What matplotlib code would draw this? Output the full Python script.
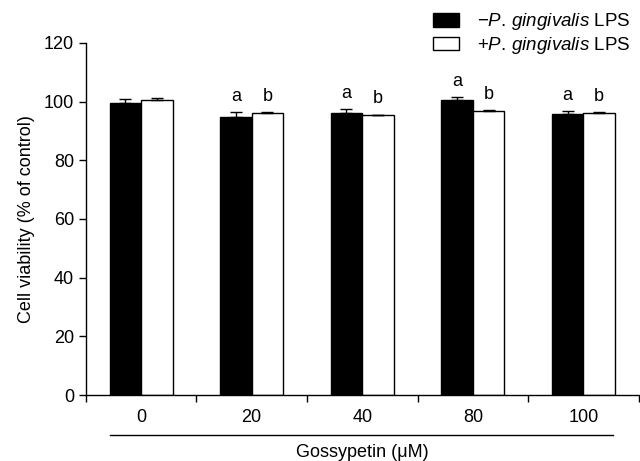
import numpy as np
import matplotlib
matplotlib.use('Agg')
import matplotlib.pyplot as plt
from matplotlib.patches import Patch

plt.rcParams['font.family'] = ['Liberation Sans', 'DejaVu Sans']
plt.rcParams['mathtext.fontset'] = 'custom'
plt.rcParams['mathtext.rm'] = 'Liberation Sans'
plt.rcParams['mathtext.it'] = 'Liberation Sans:italic'

# 数据
doses = ['0', '20', '40', '80', '100']
minus_lps = [99.6, 94.6, 96.2, 100.6, 95.8]
minus_err = [1.4, 1.9, 1.2, 1.0, 1.0]
plus_lps = [100.6, 96.2, 95.3, 96.8, 96.1]
plus_err = [0.5, 0.2, 0.2, 0.2, 0.2]
minus_marks = ['', 'a', 'a', 'a', 'a']
plus_marks = ['', 'b', 'b', 'b', 'b']

FS = 13

fig = plt.figure(figsize=(6.4, 4.61), dpi=100)
ax = fig.add_axes([0.134, 0.143, 0.864, 0.764])

x = np.arange(len(doses))
w = 0.285
ekw = dict(capsize=4, elinewidth=1, capthick=1, ecolor='black')
ax.bar(x - w/2, minus_lps, w, color='black', edgecolor='black', lw=1,
       yerr=[np.zeros(len(doses)), minus_err], error_kw=ekw)
ax.bar(x + w/2, plus_lps, w, color='white', edgecolor='black', lw=1,
       yerr=[np.zeros(len(doses)), plus_err], error_kw=ekw)

for i in range(len(doses)):
    if minus_marks[i]:
        ax.text(x[i] - w/2, minus_lps[i] + minus_err[i] + 2.5, minus_marks[i],
                ha='center', va='bottom', fontsize=FS)
    if plus_marks[i]:
        ax.text(x[i] + w/2, plus_lps[i] + plus_err[i] + 2.5, plus_marks[i],
                ha='center', va='bottom', fontsize=FS)

ax.set_xlim(-0.5, 4.5)
ax.set_ylim(0, 120)
ax.set_yticks(range(0, 121, 20))
ax.set_xticks(np.arange(-0.5, 4.6, 1))
ax.set_xticklabels([])
for i, d in enumerate(doses):
    ax.text(x[i], -0.065, d, transform=ax.get_xaxis_transform(),
            ha='center', va='center', fontsize=FS)
ax.tick_params(axis='both', direction='out', length=5, width=1, labelsize=FS)
for s in ['top', 'right']:
    ax.spines[s].set_visible(False)
for s in ['left', 'bottom']:
    ax.spines[s].set_linewidth(1)

# 横线 + 轴标题
ax.plot([-0.28, 4.27], [-0.114, -0.114], color='black', lw=1,
        transform=ax.get_xaxis_transform(), clip_on=False)
ax.text(2.0, -0.163, 'Gossypetin (μM)', transform=ax.get_xaxis_transform(),
        ha='center', va='center', fontsize=FS)
ax.set_ylabel('Cell viability (% of control)', fontsize=FS, labelpad=6)

handles = [Patch(facecolor='black', edgecolor='black'),
           Patch(facecolor='white', edgecolor='black')]
labels = ['−$\\mathit{P.\\,gingivalis}$ LPS', '+$\\mathit{P.\\,gingivalis}$ LPS']
fig.legend(handles, labels, loc='upper right', bbox_to_anchor=(1.003, 1.0),
           frameon=False, fontsize=FS + 0.5, handlelength=1.35, handleheight=0.75,
           labelspacing=0.15, handletextpad=1.0, borderaxespad=0.2)

fig.savefig('out.png', dpi=100)
